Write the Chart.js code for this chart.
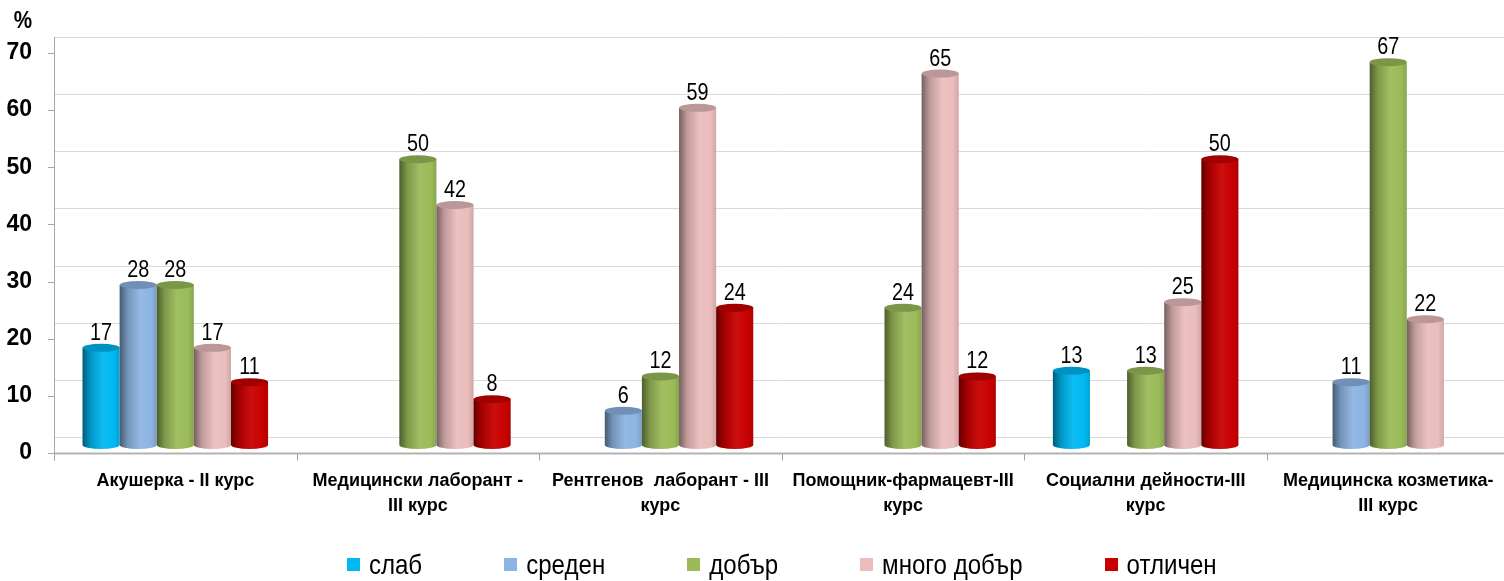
<!DOCTYPE html>
<html>
<head>
<meta charset="utf-8">
<script src="https://cdn.jsdelivr.net/npm/chart.js@4.4.1/dist/chart.umd.min.js"></script>
<style>
  html, body { margin: 0; padding: 0; background: #fff; overflow: hidden; }
  #wrap { width: 1517px; height: 581px; }
</style>
</head>
<body>
<div id="wrap"><canvas id="chart" width="1517" height="581"></canvas></div>
<script>
// categories (x axis)
const categories = [
  'Акушерка - II курс',
  ['Медицински лаборант -', 'III курс'],
  ['Рентгенов  лаборант - III', 'курс'],
  ['Помощник-фармацевт-III', 'курс'],
  ['Социални дейности-III', 'курс'],
  ['Медицинска козметика-', 'III курс']
];

// series (percent)
const slab       = [17, null, null, null, 13, null];
const sreden     = [28, null, 6, null, null, 11];
const dobar      = [28, 50, 12, 24, 13, 67];
const mnogoDobar = [17, 42, 59, 65, 25, 22];
const otlichen   = [11, 8, 24, 12, 50, null];

const seriesNames = ['слаб', 'среден', 'добър', 'много добър', 'отличен'];
const seriesColors = ['#00B8F2', '#8DB4E2', '#9BBB59', '#EBBDBD', '#C80000'];

const yTicks = [0, 10, 20, 30, 40, 50, 60, 70];

const FONT = '"Liberation Sans Narrow", "Arial Narrow", "Liberation Sans", Arial, sans-serif';
const DEPTH = 8;     // half depth of the 3D floor
const NARROW = 0.86; // squeeze for hand drawn text, the original font is condensed

// mix a hex colour with black (f<0) or white (f>0)
const shade = (hex, f) => {
  const n = parseInt(hex.slice(1), 16);
  let r = (n >> 16) & 255, g = (n >> 8) & 255, b = n & 255;
  const t = f < 0 ? 0 : 255, p = Math.abs(f);
  r = Math.round(r + (t - r) * p);
  g = Math.round(g + (t - g) * p);
  b = Math.round(b + (t - b) * p);
  return `rgb(${r},${g},${b})`;
};

// text squeezed horizontally around its anchor point
const narrowText = (ctx, text, x, y) => {
  ctx.save();
  ctx.translate(x, y);
  ctx.scale(NARROW, 1);
  ctx.fillText(text, 0, 0);
  ctx.restore();
};

const cylinders = {
  id: 'cylinders',
  beforeDatasetsDraw(chart) {
    const { ctx, chartArea, scales } = chart;
    const y = scales.y;

    // back wall grid lines
    ctx.save();
    ctx.strokeStyle = '#d9d9d9';
    ctx.lineWidth = 1;
    yTicks.forEach(v => {
      const py = Math.round(y.getPixelForValue(v) - DEPTH) + 0.5;
      ctx.beginPath();
      ctx.moveTo(chartArea.left, py);
      ctx.lineTo(chartArea.right, py);
      ctx.stroke();
    });
    ctx.restore();

    // bars as cylinders
    chart.data.datasets.forEach((ds, di) => {
      const meta = chart.getDatasetMeta(di);
      meta.data.forEach((el, i) => {
        if (ds.data[i] == null) return;
        const c = ds.backgroundColor;
        const rx = el.width / 2, ry = 4;
        const left = el.x - rx, right = el.x + rx;
        const grad = ctx.createLinearGradient(left, 0, right, 0);
        grad.addColorStop(0, shade(c, -0.5));
        grad.addColorStop(0.22, shade(c, -0.18));
        grad.addColorStop(0.55, shade(c, 0.06));
        grad.addColorStop(0.85, c);
        grad.addColorStop(1, shade(c, -0.12));
        ctx.save();
        ctx.beginPath();
        ctx.moveTo(left, el.y);
        ctx.lineTo(left, el.base);
        ctx.ellipse(el.x, el.base, rx, ry, 0, Math.PI, 0, true);
        ctx.lineTo(right, el.y);
        ctx.closePath();
        ctx.fillStyle = grad;
        ctx.fill();
        ctx.beginPath();
        ctx.ellipse(el.x, el.y, rx, ry, 0, 0, Math.PI * 2);
        ctx.fillStyle = shade(c, -0.2);
        ctx.fill();
        ctx.restore();

        // value label
        ctx.save();
        ctx.font = '23px ' + FONT;
        ctx.fillStyle = '#000';
        ctx.textAlign = 'center';
        ctx.textBaseline = 'alphabetic';
        narrowText(ctx, String(ds.data[i]), el.x, el.y - ry - 4);
        ctx.restore();
      });
    });
    return false;
  },
  afterDraw(chart) {
    const { ctx, chartArea, scales } = chart;
    const y = scales.y;
    const front = Math.round(y.getPixelForValue(0) + DEPTH) + 0.5;
    ctx.save();
    ctx.strokeStyle = '#a6a6a6';
    ctx.lineWidth = 1;
    // left axis
    ctx.beginPath();
    ctx.moveTo(chartArea.left + 0.5, Math.round(y.getPixelForValue(70) - DEPTH));
    ctx.lineTo(chartArea.left + 0.5, front + 7);
    ctx.stroke();
    yTicks.forEach(v => {
      const py = Math.round(y.getPixelForValue(v) + DEPTH) + 0.5;
      ctx.beginPath();
      ctx.moveTo(chartArea.left - 6, py);
      ctx.lineTo(chartArea.left, py);
      ctx.stroke();
    });
    // front floor edge
    ctx.lineWidth = 2;
    ctx.strokeStyle = '#b3b3b3';
    ctx.beginPath();
    ctx.moveTo(chartArea.left, front);
    ctx.lineTo(chartArea.right, front);
    ctx.stroke();
    ctx.lineWidth = 1;
    ctx.strokeStyle = '#a6a6a6';
    const step = (chartArea.right - chartArea.left) / categories.length;
    for (let i = 0; i <= categories.length; i++) {
      const px = Math.round(chartArea.left + step * i) + 0.5;
      ctx.beginPath();
      ctx.moveTo(px, front);
      ctx.lineTo(px, front + 7);
      ctx.stroke();
    }

    // unit
    ctx.fillStyle = '#000';
    ctx.font = 'bold 24px ' + FONT;
    ctx.textAlign = 'right';
    ctx.textBaseline = 'middle';
    narrowText(ctx, '%', 32, 21);

    // legend
    ctx.font = '28px ' + FONT;
    ctx.textAlign = 'left';
    const box = 13, gapBox = 9, gapItem = 82;
    const widths = seriesNames.map(n => ctx.measureText(n).width * NARROW);
    const total = widths.reduce((a, w) => a + box + gapBox + w, 0) + gapItem * (seriesNames.length - 1);
    let lx = (chartArea.left + chartArea.right) / 2 - total / 2;
    const ly = 565;
    seriesNames.forEach((n, i) => {
      ctx.fillStyle = seriesColors[i];
      ctx.fillRect(Math.round(lx), ly - 7, box, box);
      ctx.fillStyle = '#000';
      narrowText(ctx, n, lx + box + gapBox, ly + 1);
      lx += box + gapBox + widths[i] + gapItem;
    });
    ctx.restore();
  }
};

const seriesData = [slab, sreden, dobar, mnogoDobar, otlichen];

new Chart(document.getElementById('chart'), {
  type: 'bar',
  data: {
    labels: categories,
    datasets: seriesNames.map((name, i) => ({
      label: name,
      data: seriesData[i],
      backgroundColor: seriesColors[i],
      categoryPercentage: 0.765,
      barPercentage: 1.0
    }))
  },
  options: {
    responsive: false,
    animation: false,
    layout: { padding: { top: 45, right: 6, left: 0, bottom: 0 } },
    plugins: {
      legend: { display: false },
      tooltip: { enabled: false }
    },
    scales: {
      x: {
        grid: { display: false, drawTicks: false },
        border: { display: false },
        ticks: {
          color: '#000',
          font: { family: FONT, size: 18, weight: 'bold', lineHeight: 1.4 },
          padding: 23,
          maxRotation: 0,
          autoSkip: false
        },
        afterFit(scale) { scale.height = 136; }
      },
      y: {
        min: 0,
        max: 70,
        grid: { display: false, drawTicks: false },
        border: { display: false },
        ticks: {
          stepSize: 10,
          color: '#000',
          font: { family: FONT, size: 23, weight: 'bold' },
          padding: 22,
          labelOffset: DEPTH
        },
        afterFit(scale) { scale.width = 54; }
      }
    }
  },
  plugins: [cylinders]
});
</script>
</body>
</html>
